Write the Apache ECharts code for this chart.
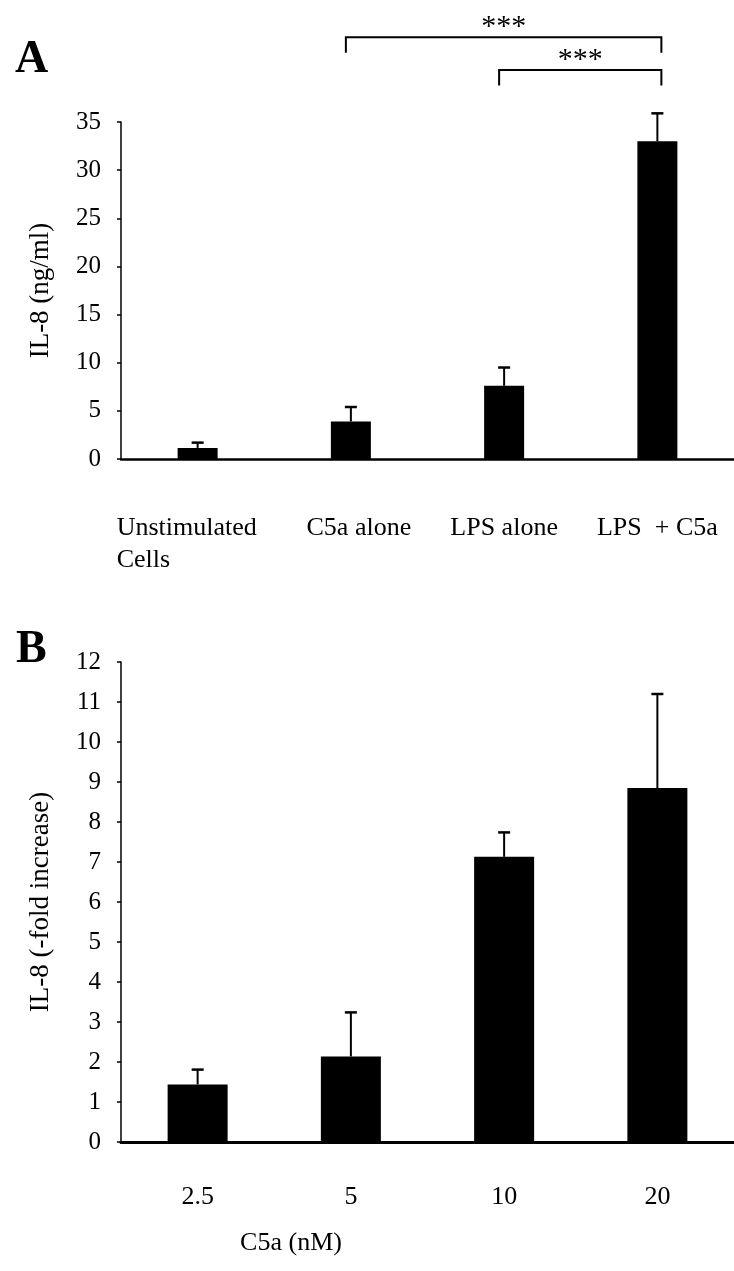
<!DOCTYPE html>
<html>
<head>
<meta charset="utf-8">
<script src="https://cdn.jsdelivr.net/npm/echarts@6/dist/echarts.min.js"></script>
<style>
html, body { margin: 0; padding: 0; background: #fff; }
#main { width: 734px; height: 1271px; }
</style>
</head>
<body>
<div id="main"></div>
<script>
// panel A: IL-8 by stimulus
var groupsA = ['Unstimulated\nCells', 'C5a alone', 'LPS alone', 'LPS  + C5a'];
var meansA = [1.15, 3.9, 7.6, 33.0];
var errTopA = [1.7, 5.4, 9.5, 35.9];
// significance brackets: [from, to, bracket level, tick bottom]
var sigA = [[1, 3, 43.8, 42.2], [2, 3, 40.4, 38.8]];
var sigLabels = ['***', '***'];

// panel B: IL-8 fold increase by C5a dose
var dosesB = ['2.5', '5', '10', '20'];
var meansB = [1.44, 2.14, 7.13, 8.85];
var errTopB = [1.81, 3.24, 7.74, 11.2];

var FONT = '"Liberation Serif", "Times New Roman", serif';
var dom = document.getElementById('main');
var myChart = echarts.init(dom, null, { renderer: 'canvas' });

function errorBar(params, api) {
    var x = api.value(0);
    var p0 = api.coord([x, api.value(1)]);
    var p1 = api.coord([x, api.value(2)]);
    return {
        type: 'group',
        children: [
            { type: 'line', shape: { x1: p0[0], y1: p0[1], x2: p1[0], y2: p1[1] }, style: { stroke: '#000', lineWidth: 2 } },
            { type: 'line', shape: { x1: p1[0] - 6, y1: p1[1], x2: p1[0] + 6, y2: p1[1] }, style: { stroke: '#000', lineWidth: 2.5 } }
        ]
    };
}

function bracket(params, api) {
    var a = api.coord([api.value(0), api.value(2)]);
    var b = api.coord([api.value(1), api.value(2)]);
    var bottom = api.coord([api.value(0), api.value(3)])[1];
    var x1 = a[0] - 5, x2 = b[0] + 4;
    return {
        type: 'group',
        children: [
            {
                type: 'polyline',
                shape: { points: [[x1, bottom], [x1, a[1]], [x2, b[1]], [x2, bottom]] },
                style: { stroke: '#000', lineWidth: 2, fill: 'none' }
            },
            {
                type: 'text',
                x: (x1 + x2) / 2,
                y: a[1] - 10,
                style: {
                    text: sigLabels[params.dataIndex],
                    fontFamily: FONT, fontSize: 30, fill: '#000',
                    align: 'center', verticalAlign: 'middle'
                }
            }
        ]
    };
}

var tickLabel = { color: '#000', fontFamily: FONT, fontSize: 25, margin: 20 };
var axisName = { color: '#000', fontFamily: FONT, fontSize: 27 };
var shiftRight = { padding: [0, 0, 0, 16] };

option = {
    animation: false,
    backgroundColor: '#fff',
    grid: [
        { left: 121, top: 122, width: 616, height: 337 },
        { left: 121, top: 662, width: 613, height: 480 }
    ],
    graphic: [
        { type: 'text', left: 15, top: 37, style: { text: 'A', fontFamily: FONT, fontSize: 46, fontWeight: 'bold', fill: '#000' } },
        { type: 'text', left: 16, top: 627, style: { text: 'B', fontFamily: FONT, fontSize: 46, fontWeight: 'bold', fill: '#000' } },
        { type: 'text', x: 291, y: 1243, style: { text: 'C5a (nM)', fontFamily: FONT, fontSize: 26, fill: '#000', align: 'center', verticalAlign: 'middle' } }
    ],
    xAxis: [
        {
            type: 'category',
            gridIndex: 0,
            data: groupsA.map(function (g, i) {
                return i === 1 ? { value: g, textStyle: shiftRight } : g;
            }),
            axisLine: { lineStyle: { color: '#000', width: 2.5 } },
            axisTick: { show: false },
            axisLabel: {
                color: '#000', fontFamily: FONT, fontSize: 26, margin: 53, lineHeight: 32,
                interval: 0,
                formatter: function (v) {
                    if (v.indexOf('\n') >= 0) {
                        return v.split('\n').map(function (s) { return '{u|' + s + '}'; }).join('\n');
                    }
                    return v;
                },
                rich: {
                    u: { width: 162, align: 'left', color: '#000', fontFamily: FONT, fontSize: 26, lineHeight: 32 }
                }
            }
        },
        {
            type: 'category',
            gridIndex: 1,
            data: dosesB,
            axisLine: { lineStyle: { color: '#000', width: 3 } },
            axisTick: { show: false },
            axisLabel: { color: '#000', fontFamily: FONT, fontSize: 26, margin: 39, lineHeight: 32, interval: 0 }
        }
    ],
    yAxis: [
        {
            type: 'value',
            gridIndex: 0,
            min: 0, max: 35, interval: 5,
            splitLine: { show: false },
            axisLine: { show: true, lineStyle: { color: '#000', width: 1.5 } },
            axisTick: { show: true, length: 4, lineStyle: { color: '#000', width: 1.5 } },
            axisLabel: tickLabel,
            name: 'IL-8 (ng/ml)',
            nameLocation: 'middle',
            nameRotate: 90,
            nameGap: 67,
            nameTextStyle: axisName
        },
        {
            type: 'value',
            gridIndex: 1,
            min: 0, max: 12, interval: 1,
            splitLine: { show: false },
            axisLine: { show: true, lineStyle: { color: '#000', width: 1.5 } },
            axisTick: { show: true, length: 4, lineStyle: { color: '#000', width: 1.5 } },
            axisLabel: tickLabel,
            name: 'IL-8 (-fold increase)',
            nameLocation: 'middle',
            nameRotate: 90,
            nameGap: 67,
            nameTextStyle: axisName
        }
    ],
    series: [
        {
            type: 'bar', xAxisIndex: 0, yAxisIndex: 0,
            data: meansA, barWidth: 40,
            itemStyle: { color: '#000' }
        },
        {
            type: 'custom', xAxisIndex: 0, yAxisIndex: 0,
            data: meansA.map(function (m, i) { return [i, m, errTopA[i]]; }),
            renderItem: errorBar, clip: false, z: 3
        },
        {
            type: 'custom', xAxisIndex: 0, yAxisIndex: 0,
            data: sigA,
            encode: { x: [0, 1], y: [2, 3] },
            renderItem: bracket, clip: false, z: 3
        },
        {
            type: 'bar', xAxisIndex: 1, yAxisIndex: 1,
            data: meansB, barWidth: 60,
            itemStyle: { color: '#000' }
        },
        {
            type: 'custom', xAxisIndex: 1, yAxisIndex: 1,
            data: meansB.map(function (m, i) { return [i, m, errTopB[i]]; }),
            renderItem: errorBar, clip: false, z: 3
        }
    ]
};
if (option && typeof option === "object") {
    myChart.setOption(option, true);
}
</script>
</body>
</html>
